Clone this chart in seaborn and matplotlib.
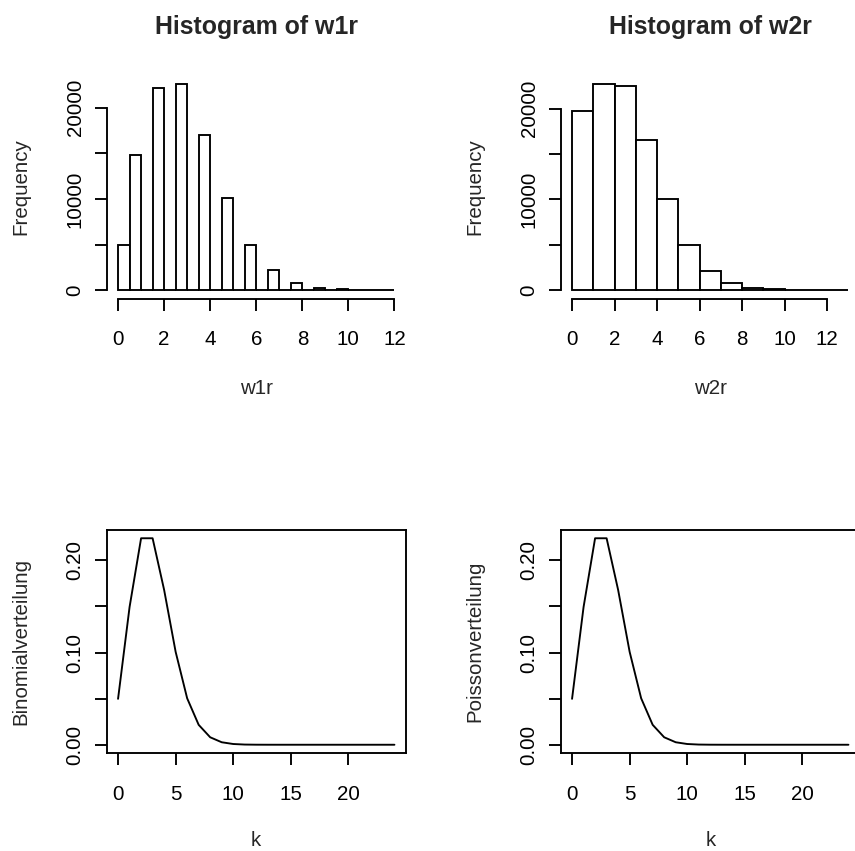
import numpy as np
import pandas as pd
import matplotlib
matplotlib.use("Agg")
import matplotlib.pyplot as plt
import seaborn as sns

# ---------------- data ----------------
w1r_values = [0, 1, 2, 3, 4, 5, 6, 7, 8, 9, 10, 11, 12]
w1r_counts = [5000, 14800, 22150, 22600, 17000, 10050, 4980, 2220, 810, 285, 95, 25, 6]

w2r_bin_edges = [0, 1, 2, 3, 4, 5, 6, 7, 8, 9, 10, 11, 12, 13]
w2r_counts = [19800, 22750, 22500, 16550, 10100, 5030, 2170, 810, 260, 90, 25, 6, 2]

k_values = list(range(25))
binom_probs = [0.0498, 0.1494, 0.2240, 0.2240, 0.1680, 0.1008, 0.0504, 0.0216,
               0.0081, 0.0027, 0.0008, 0.0002, 0.00005, 0.00001, 0.0, 0.0, 0.0,
               0.0, 0.0, 0.0, 0.0, 0.0, 0.0, 0.0, 0.0]
pois_probs = [0.0498, 0.1494, 0.2240, 0.2240, 0.1680, 0.1008, 0.0504, 0.0216,
              0.0081, 0.0027, 0.0008, 0.0002, 0.00005, 0.00001, 0.0, 0.0, 0.0,
              0.0, 0.0, 0.0, 0.0, 0.0, 0.0, 0.0, 0.0]

hist_titles = ["Histogram of w1r", "Histogram of w2r"]
hist_xlabels = ["w1r", "w2r"]
line_ylabels = ["Binomialverteilung", "Poissonverteilung"]

# ---------------- style ----------------
sns.set_style("ticks")
plt.rcParams["font.family"] = ["Liberation Sans", "DejaVu Sans"]

W, H = 855, 851
DPI = 100
LW = 1.36          # line width in points (R lwd=1 scaled)
FS = 14.8          # tick / axis label size
TFS = 17.9         # title size
TICKLEN = 8.9

fig = plt.figure(figsize=(W / DPI, H / DPI), dpi=DPI)
fig.patch.set_facecolor("white")


def px_axes(left, top, width, height):
    return fig.add_axes([left / W, (H - top - height) / H, width / W, height / H])


AX_W, AX_H = 298.5, 223.0
COL_X = [107.0, 561.0]
ROW_Y = [75.5, 530.0]

ax_tl = px_axes(COL_X[0], ROW_Y[0], AX_W, AX_H)
ax_tr = px_axes(COL_X[1], ROW_Y[0], AX_W, AX_H)
ax_bl = px_axes(COL_X[0], ROW_Y[1], AX_W, AX_H)
ax_br = px_axes(COL_X[1], ROW_Y[1], AX_W, AX_H)


def style_common(ax, xlab_y):
    ax.set_facecolor("white")
    ax.tick_params(axis="both", direction="out", length=TICKLEN, width=LW,
                   color="black", labelsize=FS, labelcolor="black")
    ax.tick_params(axis="x", pad=14.0)
    ax.tick_params(axis="y", pad=7.2, labelrotation=90)
    for lab in ax.get_yticklabels():
        lab.set_verticalalignment("center")
    for sp in ax.spines.values():
        sp.set_linewidth(LW)
        sp.set_color("black")
    ax.xaxis.label.set_size(FS)
    ax.yaxis.label.set_size(FS)
    ax.xaxis.label.set_va("baseline")
    ax.yaxis.label.set_va("baseline")
    ax.xaxis.set_label_coords(0.5, xlab_y)
    ax.yaxis.set_label_coords(-0.27, 0.5)


# ---------------- histograms ----------------
# w1r: R breaks every 0.5, right-closed bins (value k falls in (k-0.5, k])
w1r_edges = [0.5 * i for i in range(25)]
w1r_pos = [0.25 if v == 0 else v - 0.25 for v in w1r_values]
df1 = pd.DataFrame({"w1r": w1r_pos, "n": w1r_counts})
sns.histplot(data=df1, x="w1r", weights="n", bins=w1r_edges, ax=ax_tl,
             color="white", edgecolor="black", linewidth=LW, alpha=1.0)

w2r_mid = [(a + b) / 2 for a, b in zip(w2r_bin_edges[:-1], w2r_bin_edges[1:])]
df2 = pd.DataFrame({"w2r": w2r_mid, "n": w2r_counts})
sns.histplot(data=df2, x="w2r", weights="n", bins=list(w2r_bin_edges), ax=ax_tr,
             color="white", edgecolor="black", linewidth=LW, alpha=1.0)

for ax, title, xl, edges, counts in [
        (ax_tl, hist_titles[0], hist_xlabels[0], w1r_edges, w1r_counts),
        (ax_tr, hist_titles[1], hist_xlabels[1], w2r_bin_edges, w2r_counts)]:
    lo, hi = edges[0], edges[-1]
    pad = 0.04 * (hi - lo)
    ax.set_xlim(lo - pad, hi + pad)
    cmax = max(counts)
    ax.set_ylim(-0.04 * cmax, 1.04 * cmax)
    ax.set_xticks([0, 2, 4, 6, 8, 10, 12])
    ax.set_xticklabels(["0", "2", "4", "6", "8", "10", "12"])
    ax.set_yticks([0, 5000, 10000, 15000, 20000])
    ax.set_yticklabels(["0", "", "10000", "", "20000"])
    ax.spines["top"].set_visible(False)
    ax.spines["right"].set_visible(False)
    ax.spines["bottom"].set_bounds(0, 12)
    ax.spines["left"].set_bounds(0, 20000)
    ax.set_xlabel(xl)
    ax.set_ylabel("Frequency")
    ax.set_title(title, fontsize=TFS, fontweight="bold", y=1.184, pad=0,
                 va="baseline")
    style_common(ax, -0.43)

# ---------------- probability lines ----------------
for ax, probs, yl in [(ax_bl, binom_probs, line_ylabels[0]),
                      (ax_br, pois_probs, line_ylabels[1])]:
    dfl = pd.DataFrame({"k": k_values, "p": probs})
    sns.lineplot(data=dfl, x="k", y="p", ax=ax, color="black", linewidth=LW)
    kmin, kmax = min(k_values), max(k_values)
    ax.set_xlim(kmin - 0.04 * (kmax - kmin), kmax + 0.04 * (kmax - kmin))
    pmin, pmax = min(probs), max(probs)
    ax.set_ylim(pmin - 0.04 * (pmax - pmin), pmax + 0.04 * (pmax - pmin))
    ax.set_xticks([0, 5, 10, 15, 20])
    ax.set_xticklabels(["0", "5", "10", "15", "20"])
    ax.set_yticks([0.0, 0.05, 0.10, 0.15, 0.20])
    ax.set_yticklabels(["0.00", "", "0.10", "", "0.20"])
    ax.set_xlabel("k")
    ax.set_ylabel(yl)
    style_common(ax, -0.415)

fig.savefig("out.png", dpi=DPI, facecolor="white")
